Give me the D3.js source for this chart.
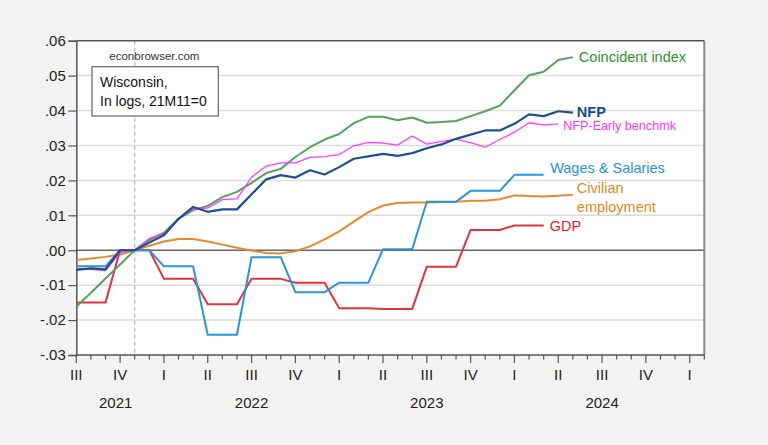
<!DOCTYPE html>
<html><head><meta charset="utf-8">
<script src="https://cdn.jsdelivr.net/npm/d3@7"></script>
<style>
html,body{margin:0;padding:0;background:#f3f3f3;}
svg{display:block;font-family:"Liberation Sans",Arial,sans-serif;}
</style></head>
<body><svg id="c" width="768" height="445"></svg>
<script>
// Monthly index 0 = 2021M07 ... 43 = 2025M02
const quarterLabels = ["III","IV","I","II","III","IV","I","II","III","IV","I","II","III","IV","I"];
const yearLabels = ["2021","2022","2023","2024"];
const yTicks = [-0.03,-0.02,-0.01,0,0.01,0.02,0.03,0.04,0.05,0.06];
const yTickLabels = ["-.03","-.02","-.01",".00",".01",".02",".03",".04",".05",".06"];

const coincident = [-0.0162,-0.0122,-0.0081,-0.0041,0.0000,0.0030,0.0050,0.0090,0.0115,0.0127,0.0152,0.0167,0.0193,0.0221,0.0233,0.0267,0.0295,0.0317,0.0333,0.0364,0.0382,0.0382,0.0372,0.0380,0.0365,0.0367,0.0370,0.0384,0.0398,0.0414,0.0458,0.0501,0.0511,0.0545,0.0553];
const nfp = [-0.0056,-0.0052,-0.0055,0.0000,0.0000,0.0022,0.0043,0.0090,0.0124,0.0110,0.0117,0.0117,0.0160,0.0203,0.0215,0.0208,0.0229,0.0217,0.0238,0.0262,0.0269,0.0276,0.0270,0.0278,0.0292,0.0303,0.0319,0.0331,0.0343,0.0343,0.0362,0.0389,0.0384,0.0398,0.0394];
const nfpEarly = [-0.0052,-0.0055,-0.0058,-0.0007,0.0000,0.0034,0.0047,0.0090,0.0119,0.0121,0.0145,0.0147,0.0209,0.0241,0.0250,0.0250,0.0266,0.0268,0.0274,0.0299,0.0309,0.0307,0.0301,0.0327,0.0304,0.0312,0.0318,0.0308,0.0295,0.0317,0.0338,0.0365,0.0359,0.0362];
const civilian = [-0.0028,-0.0024,-0.0019,-0.0012,0.0000,0.0013,0.0025,0.0032,0.0032,0.0025,0.0016,0.0007,-0.0001,-0.0008,-0.0009,-0.0003,0.0011,0.0031,0.0054,0.0082,0.0109,0.0128,0.0135,0.0137,0.0137,0.0138,0.0139,0.0142,0.0142,0.0146,0.0157,0.0155,0.0154,0.0156,0.0159];
// quarterly series (2021Q3 .. 2024Q1), shown at monthly frequency
const wagesQ = [-0.0046,0.0000,-0.0046,-0.0242,-0.0020,-0.0120,-0.0093,0.0003,0.0139,0.0170,0.0216];
const gdpQ = [-0.0150,0.0000,-0.0082,-0.0155,-0.0082,-0.0093,-0.0166,-0.0168,-0.0047,0.0058,0.0071];

const toMonthly = q => q.flatMap(v => [v, v, v]);
const wages = toMonthly(wagesQ);
const gdp = toMonthly(gdpQ);

const svg = d3.select("#c");
const L = 76.3, R = 704.3, T = 40.7, B = 355;
const x = d3.scaleLinear().domain([0, 43]).range([L, R]);
const y = d3.scaleLinear().domain([-0.03, 0.06]).range([B, T]);

svg.append("rect").attr("x",0).attr("y",0).attr("width",768).attr("height",445).attr("fill","#f3f3f3");
svg.append("rect").attr("x",L).attr("y",T).attr("width",R-L).attr("height",B-T).attr("fill","#fff");

// grid
svg.append("g").selectAll("line").data(yTicks.filter(d => d !== 0 && d !== 0.06 && d !== -0.03)).join("line")
  .attr("x1",L).attr("x2",R).attr("y1",d=>y(d)).attr("y2",d=>y(d))
  .attr("stroke","#dcdcdc").attr("stroke-width",1.5);
// zero line
svg.append("line").attr("x1",L).attr("x2",R).attr("y1",y(0)).attr("y2",y(0)).attr("stroke","#666").attr("stroke-width",1.5);
// dashed vertical at 21M11
svg.append("line").attr("x1",x(4)).attr("x2",x(4)).attr("y1",T).attr("y2",B)
  .attr("stroke","#bbb").attr("stroke-width",1.3).attr("stroke-dasharray","4,3");

// frame
svg.append("line").attr("x1",L).attr("x2",R).attr("y1",T).attr("y2",T).attr("stroke","#555").attr("stroke-width",1.5);
svg.append("line").attr("x1",R).attr("x2",R).attr("y1",T).attr("y2",B).attr("stroke","#888").attr("stroke-width",2);

// y axis
const yAxis = d3.axisLeft(y).tickValues(yTicks).tickSize(8).tickFormat((d,i)=>yTickLabels[i]);
const ga = svg.append("g").attr("transform",`translate(${L},0)`).call(yAxis);
ga.select(".domain").attr("stroke","#555").attr("stroke-width",1.5);
ga.selectAll(".tick line").attr("stroke","#555").attr("stroke-width",1.2);
ga.selectAll(".tick text").attr("font-size","15px").attr("fill","#222").attr("x",-10.5).attr("font-family","Liberation Sans, Arial, sans-serif");

// x axis: monthly minor ticks, quarterly major ticks
const months = d3.range(0, 44);
const gx = svg.append("g").attr("transform",`translate(0,${B})`);
gx.append("line").attr("x1",L).attr("x2",R).attr("y1",0).attr("y2",0).attr("stroke","#555").attr("stroke-width",1.5);
gx.selectAll("line.t").data(months).join("line").attr("class","t")
  .attr("x1",d=>x(d)).attr("x2",d=>x(d)).attr("y1",0).attr("y2",d=> d%3===0 ? 8 : 4.5)
  .attr("stroke","#555").attr("stroke-width",1.2);
gx.selectAll("text.q").data(quarterLabels).join("text").attr("class","q")
  .attr("x",(d,i)=>x(i*3)).attr("y",25).attr("text-anchor","middle")
  .attr("font-size","15px").attr("fill","#222").text(d=>d);
const yearPos = [2.7, 12, 24, 36];
gx.selectAll("text.y").data(yearLabels).join("text").attr("class","y")
  .attr("x",(d,i)=>x(yearPos[i])).attr("y",53).attr("text-anchor","middle")
  .attr("font-size","15px").attr("fill","#222").text(d=>d);

// series
const line = d3.line().x((d,i)=>x(i)).y(d=>y(d));
const series = [
  {data: civilian, color:"#e8892f", w:2},
  {data: gdp, color:"#e0343e", w:2},
  {data: wages, color:"#2b96d4", w:2},
  {data: coincident, color:"#55a25a", w:2},
  {data: nfpEarly, color:"#ff3cff", w:1.3},
  {data: nfp, color:"#1f4f8f", w:2.2}
];
svg.append("g").selectAll("path").data(series).join("path")
  .attr("d",d=>line(d.data)).attr("fill","none")
  .attr("stroke",d=>d.color).attr("stroke-width",d=>d.w).attr("stroke-linejoin","round");

// labels
const lab = (xx, yy, txt, col, size, weight) => svg.append("text").attr("x",xx).attr("y",yy)
  .attr("dominant-baseline","central").attr("font-size",size).attr("fill",col)
  .attr("font-weight",weight||"normal").text(txt);
lab(x(34)+6, y(coincident[34]), "Coincident index", "#2e932e", "14.5px");
lab(x(34)+4, y(nfp[34])-1, "NFP", "#1c4b8c", "14.5px", "bold");
lab(x(33)+5, y(nfpEarly[33])+2.5, "NFP-Early benchmk", "#ff33ff", "12.6px");
lab(x(32)+6.5, y(wages[32])-7, "Wages & Salaries", "#2a93d0", "14.5px");
lab(x(34)+4, y(civilian[34])-6.5, "Civilian", "#e08a22", "14.5px");
lab(x(34)+4, y(civilian[34])+12.5, "employment", "#e08a22", "14.5px");
lab(x(32)+6, y(gdp[32])+1, "GDP", "#e8222c", "14.5px");

// annotation box
svg.append("text").attr("x",109.3).attr("y",55.7).attr("dominant-baseline","central")
  .attr("font-size","11.5px").attr("fill","#333").text("econbrowser.com");
svg.append("rect").attr("x",92).attr("y",66.7).attr("width",126.3).attr("height",49.3)
  .attr("fill","#fff").attr("stroke","#666").attr("stroke-width",1.2);
svg.append("text").attr("x",100).attr("y",82).attr("dominant-baseline","central")
  .attr("font-size","14px").attr("fill","#111").text("Wisconsin,");
svg.append("text").attr("x",100).attr("y",101).attr("dominant-baseline","central")
  .attr("font-size","14px").attr("fill","#111").text("In logs, 21M11=0");
</script></body></html>
